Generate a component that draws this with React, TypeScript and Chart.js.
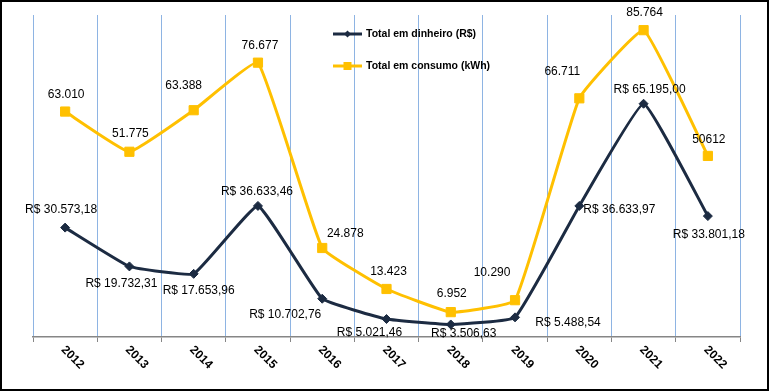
import React, { useEffect, useRef } from "react";
import { Chart, registerables } from "chart.js";

Chart.register(...registerables);

const years = ["2012", "2013", "2014", "2015", "2016", "2017", "2018", "2019", "2020", "2021", "2022"];
const dinheiro = [30573.18, 19732.31, 17653.96, 36633.46, 10702.76, 5021.46, 3506.63, 5488.54, 36633.97, 65195.0, 33801.18];
const consumo = [63010, 51775, 63388, 76677, 24878, 13423, 6952, 10290, 66711, 85764, 50612];
const dinheiroLabels = [
  "R$ 30.573,18", "R$ 19.732,31", "R$ 17.653,96", "R$ 36.633,46", "R$ 10.702,76", "R$ 5.021,46",
  "R$ 3.506,63", "R$ 5.488,54", "R$ 36.633,97", "R$ 65.195,00", "R$ 33.801,18",
];
const consumoLabels = ["63.010", "51.775", "63.388", "76.677", "24.878", "13.423", "6.952", "10.290", "66.711", "85.764", "50612"];
const seriesNames = ["Total em dinheiro (R$)", "Total em consumo (kWh)"];

// label offsets (dx, dy) from each point, styling only
const dinheiroLabelOffsets = [[-4, -18], [-8, 17], [5, 17], [-1, -14], [-37, 16], [-17, 14], [13, 9], [53, 5], [40, 4], [6, -14], [1, 19]];
const consumoLabelOffsets = [[1, -17], [1, -18], [-10, -25], [2, -17], [23, -14], [2, -17], [1, -18], [-23, -27], [-17, -27], [1, -17], [1, -16]];

const DARK = "#1C2B42";
const GOLD = "#FFC000";
const LABEL_FONT = '12px "Liberation Sans", Arial, sans-serif';

const labelsPlugin = {
  id: "pointLabels",
  afterDatasetsDraw(chart: any) {
    const ctx = chart.ctx;
    ctx.save();
    ctx.font = LABEL_FONT;
    ctx.fillStyle = "#000";
    ctx.textAlign = "center";
    ctx.textBaseline = "middle";
    const sets = [
      { meta: chart.getDatasetMeta(0), texts: dinheiroLabels, offs: dinheiroLabelOffsets },
      { meta: chart.getDatasetMeta(1), texts: consumoLabels, offs: consumoLabelOffsets },
    ];
    sets.forEach(({ meta, texts, offs }) => {
      meta.data.forEach((pt: any, i: number) => {
        ctx.fillText(texts[i], pt.x + offs[i][0], pt.y + offs[i][1]);
      });
    });
    ctx.restore();
  },
};

const xLabelsPlugin = {
  id: "xLabels",
  afterDraw(chart: any) {
    const ctx = chart.ctx;
    const xs = chart.scales.x;
    const yb = chart.chartArea.bottom;
    ctx.save();
    ctx.font = 'bold 12px "Liberation Sans", Arial, sans-serif';
    ctx.fillStyle = "#000";
    ctx.textAlign = "left";
    ctx.textBaseline = "middle";
    years.forEach((y, i) => {
      const x = xs.getPixelForValue(i);
      ctx.save();
      ctx.translate(x - 2, yb + 11);
      ctx.rotate(Math.PI / 4);
      ctx.fillText(y, 0, 0);
      ctx.restore();
    });
    ctx.restore();
  },
};

const legendPlugin = {
  id: "customLegend",
  afterDraw(chart: any) {
    const ctx = chart.ctx;
    const items = [
      { color: DARK, style: "diamond", y: 32, text: seriesNames[0] },
      { color: GOLD, style: "square", y: 64, text: seriesNames[1] },
    ];
    ctx.save();
    items.forEach((it) => {
      ctx.strokeStyle = it.color;
      ctx.lineWidth = 3;
      ctx.beginPath();
      ctx.moveTo(331, it.y);
      ctx.lineTo(360, it.y);
      ctx.stroke();
      ctx.fillStyle = it.color;
      const cx = 345.5;
      if (it.style === "diamond") {
        ctx.beginPath();
        ctx.moveTo(cx, it.y - 3.5);
        ctx.lineTo(cx + 3.5, it.y);
        ctx.lineTo(cx, it.y + 3.5);
        ctx.lineTo(cx - 3.5, it.y);
        ctx.closePath();
        ctx.fill();
      } else {
        ctx.fillRect(cx - 4, it.y - 4, 8, 8);
      }
      ctx.fillStyle = "#000";
      ctx.font = 'bold 10.5px "Liberation Sans", Arial, sans-serif';
      ctx.textAlign = "left";
      ctx.textBaseline = "middle";
      ctx.fillText(it.text, 364, it.y);
    });
    ctx.restore();
  },
};

export default function App() {
  const ref = useRef<HTMLCanvasElement | null>(null);
  useEffect(() => {
    if (!ref.current) return;
    const chart = new Chart(ref.current, {
      type: "line",
      data: {
        labels: years,
        datasets: [
          {
            label: seriesNames[0],
            data: dinheiro,
            borderColor: DARK,
            backgroundColor: DARK,
            borderWidth: 3,
            pointStyle: "rectRot",
            pointRadius: 4.5,
            pointBorderWidth: 1,
            pointBackgroundColor: DARK,
            pointBorderColor: DARK,
            tension: 0.1,
            clip: false as any,
          },
          {
            label: seriesNames[1],
            data: consumo,
            borderColor: GOLD,
            backgroundColor: GOLD,
            borderWidth: 3,
            pointStyle: "rect",
            pointRadius: 6.5,
            pointBorderWidth: 1,
            pointBackgroundColor: GOLD,
            pointBorderColor: GOLD,
            tension: 0.1,
            clip: false as any,
          },
        ],
      },
      options: {
        responsive: false,
        maintainAspectRatio: false,
        animation: false,
        layout: { padding: { left: 31, right: 27, top: 13, bottom: 0 } },
        plugins: { legend: { display: false }, tooltip: { enabled: false } },
        scales: {
          x: {
            offset: true,
            grid: {
              offset: true,
              color: "#8EB4E3",
              lineWidth: 1,
              drawTicks: true,
              tickLength: 5,
              tickColor: "#868686",
            },
            border: { color: "#868686", width: 1.5 },
            ticks: { display: false },
            afterFit: (s: any) => {
              s.height = 52;
            },
          },
          y: { display: false, min: 0, max: 90000 },
        },
      },
      plugins: [labelsPlugin, xLabelsPlugin, legendPlugin],
    });
    return () => chart.destroy();
  }, []);
  return (
    <div
      style={{
        position: "absolute",
        left: 0,
        top: 0,
        width: 769,
        height: 391,
        boxSizing: "border-box",
        border: "2px solid #000",
        background: "#fff",
      }}
    >
      <canvas ref={ref} width={765} height={387} style={{ display: "block", width: 765, height: 387 }} />
    </div>
  );
}
